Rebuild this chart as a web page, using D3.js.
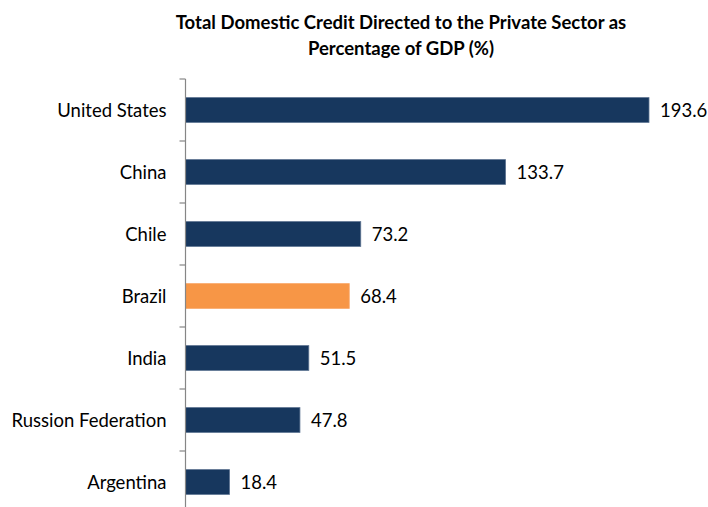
<!DOCTYPE html>
<html>
<head>
<meta charset="utf-8">
<script src="https://cdn.jsdelivr.net/npm/d3@7"></script>
<style>
  body { margin: 0; background: #fff; }
  text { font-family: Lato, "Open Sans", sans-serif; }
</style>
</head>
<body>
<div id="chart"></div>
<script>
// chart data
const countries = ['United States', 'China', 'Chile', 'Brazil', 'India', 'Russion Federation', 'Argentina'];
const values = [193.6, 133.7, 73.2, 68.4, 51.5, 47.8, 18.4];
const highlight = ['Brazil'];
const titleLines = ['Total Domestic Credit Directed to the Private Sector as', 'Percentage of GDP (%)'];

const width = 708, height = 507;
const x0 = 185.5;

const svg = d3.select('#chart').append('svg')
  .attr('width', width)
  .attr('height', height);

const data = countries.map((c, i) => ({ country: c, value: values[i] }));

// scales
const yScale = d3.scaleBand()
  .domain(countries)
  .range([79, 513])
  .paddingInner(0.6)
  .paddingOuter(0.3);

const xScale = d3.scaleLinear()
  .domain([0, 193.6])
  .range([x0, 649]);

// title
svg.append('text')
  .attr('x', 401)
  .attr('y', 29)
  .attr('text-anchor', 'middle')
  .style('font-weight', 'bold')
  .style('font-size', '18.5px')
  .selectAll('tspan')
  .data(titleLines)
  .enter()
  .append('tspan')
  .attr('x', 401)
  .attr('dy', (d, i) => i === 0 ? 0 : 26)
  .text(d => d);

// bars
svg.selectAll('rect.bar')
  .data(data)
  .enter()
  .append('rect')
  .attr('class', 'bar')
  .attr('x', xScale(0))
  .attr('y', d => yScale(d.country))
  .attr('width', d => xScale(d.value) - xScale(0))
  .attr('height', yScale.bandwidth())
  .attr('fill', d => highlight.includes(d.country) ? '#f79646' : '#17375e')
  .attr('stroke', d => highlight.includes(d.country) ? '#f9a86a' : '#5c7391')
  .attr('stroke-width', 0.8);

// value labels
svg.selectAll('text.val')
  .data(data)
  .enter()
  .append('text')
  .attr('class', 'val')
  .attr('x', d => xScale(d.value) + 11)
  .attr('y', d => yScale(d.country) + yScale.bandwidth() / 2)
  .attr('dy', '0.36em')
  .style('font-size', '18.5px')
  .attr('fill', '#000')
  .text(d => d.value.toFixed(1));

// y axis with ticks at category boundaries
const axis = d3.axisLeft(yScale).tickSize(0).tickPadding(19);
const gAxis = svg.append('g')
  .attr('transform', `translate(${x0},0)`)
  .call(axis);
gAxis.select('.domain').remove();
gAxis.selectAll('text')
  .style('font-size', '18.5px')
  .attr('dy', '0.36em')
  .attr('fill', '#000');

const boundaries = countries.map(c => yScale(c) - yScale.step() * yScale.paddingInner() / 2);
svg.append('line')
  .attr('x1', x0).attr('x2', x0)
  .attr('y1', boundaries[0]).attr('y2', height)
  .attr('stroke', '#868686')
  .attr('stroke-width', 1.2);
svg.selectAll('line.tick')
  .data(boundaries)
  .enter()
  .append('line')
  .attr('class', 'tick')
  .attr('x1', x0 - 6).attr('x2', x0)
  .attr('y1', d => d).attr('y2', d => d)
  .attr('stroke', '#868686')
  .attr('stroke-width', 1.2);
</script>
</body>
</html>
